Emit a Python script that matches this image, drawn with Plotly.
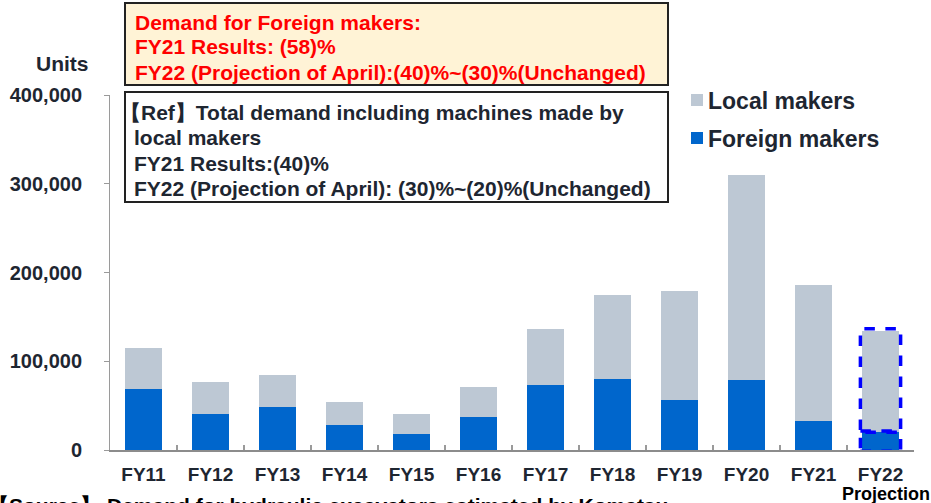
import plotly.graph_objects as go

categories = ["FY11", "FY12", "FY13", "FY14", "FY15", "FY16", "FY17", "FY18", "FY19", "FY20", "FY21", "FY22"]
foreign_makers = [68700, 40600, 48500, 28000, 18400, 37600, 72900, 80000, 56300, 78900, 32700, 20000]
total_demand = [114600, 77000, 84500, 54000, 40200, 71000, 136000, 174600, 179500, 309900, 185900, 134000]
local_makers = [t - f for t, f in zip(total_demand, foreign_makers)]
y_ticks = [0, 100000, 200000, 300000, 400000]

box1_lines = ["Demand for Foreign makers:",
              "FY21 Results: (58)%",
              "FY22 (Projection of April):(40)%~(30)%(Unchanged)"]
box2_lines = ["【Ref】Total demand including machines made by",
              "local makers",
              "FY21 Results:(40)%",
              "FY22 (Projection of April): (30)%~(20)%(Unchanged)"]

W, H = 931, 503
L, T, R, B = 110, 95, 931 - 914, 503 - 450
PW, PH = W - L - R, H - T - B
FONT = "Liberation Sans, Arial, sans-serif"
DARK = "#1E2631"
FOREIGN_C = "#0066CC"
LOCAL_C = "#BDC8D4"


def px(x):
    """window pixel x -> paper coordinate"""
    return (x - L) / PW


def py(y):
    """window pixel y -> paper coordinate"""
    return (H - B - y) / PH


fig = go.Figure()
fig.add_trace(go.Bar(x=categories, y=foreign_makers, name="Foreign makers",
                     marker=dict(color=FOREIGN_C, line=dict(width=0))))
fig.add_trace(go.Bar(x=categories, y=local_makers, name="Local makers",
                     marker=dict(color=LOCAL_C, line=dict(width=0))))

shapes = []
annotations = []

# dashed highlight boxes around FY22 projection
i22 = len(categories) - 1
hw = 0.3
shapes.append(dict(type="rect", xref="x", yref="y", x0=i22 - hw, x1=i22 + hw,
                   y0=foreign_makers[i22] + 1500, y1=total_demand[i22] + 2500,
                   line=dict(color="#0000FF", width=3.5, dash="dash")))
shapes.append(dict(type="rect", xref="x", yref="y", x0=i22 - hw, x1=i22 + hw,
                   y0=-1500, y1=foreign_makers[i22],
                   line=dict(color="#0000FF", width=3.5, dash="dash")))

# text boxes
shapes.append(dict(type="rect", xref="paper", yref="paper", x0=px(125), x1=px(668),
                   y0=py(85), y1=py(3), fillcolor="#FFF3D6",
                   line=dict(color="#222222", width=2), layer="above"))
shapes.append(dict(type="rect", xref="paper", yref="paper", x0=px(125), x1=px(668),
                   y0=py(202), y1=py(92), fillcolor="white",
                   line=dict(color="#222222", width=2), layer="above"))

for line, yc in zip(box1_lines, [21, 46, 71]):
    annotations.append(dict(xref="paper", yref="paper", x=px(133), y=py(yc + 1),
                            xanchor="left", yanchor="middle", showarrow=False,
                            text="<b>%s</b>" % line,
                            font=dict(family=FONT, size=21, color="#FF0000")))
for line, yc in zip(box2_lines, [111, 136, 162, 187]):
    x0 = 118 if line.startswith("【") else 132
    annotations.append(dict(xref="paper", yref="paper", x=px(x0), y=py(yc + 1),
                            xanchor="left", yanchor="middle", showarrow=False,
                            text="<b>%s</b>" % line,
                            font=dict(family=FONT, size=21, color=DARK)))

# legend
for name, color, yc in [("Local makers", LOCAL_C, 100), ("Foreign makers", FOREIGN_C, 138)]:
    shapes.append(dict(type="rect", xref="paper", yref="paper", x0=px(691), x1=px(703),
                       y0=py(yc + 6), y1=py(yc - 6), fillcolor=color, line=dict(width=0)))
    annotations.append(dict(xref="paper", yref="paper", x=px(706), y=py(yc + 1),
                            xanchor="left", yanchor="middle", showarrow=False,
                            text="<b>%s</b>" % name,
                            font=dict(family=FONT, size=23, color=DARK)))

# axis title "Units"
annotations.append(dict(xref="paper", yref="paper", x=px(91), y=py(64),
                        xanchor="right", yanchor="middle", showarrow=False,
                        text="<b>Units</b>", font=dict(family=FONT, size=21, color=DARK)))
# Projection label
annotations.append(dict(xref="paper", yref="paper", x=px(886), y=py(494),
                        xanchor="center", yanchor="middle", showarrow=False,
                        text="<b>Projection</b>", font=dict(family=FONT, size=18, color="#000000")))
# source (cut off at bottom)
annotations.append(dict(xref="paper", yref="paper", x=px(-14), y=py(492),
                        xanchor="left", yanchor="top", showarrow=False,
                        text="<b>【Source】 Demand for hydraulic excavators estimated by Komatsu</b>",
                        font=dict(family=FONT, size=21, color="#000000")))

fig.update_layout(
    width=W, height=H, autosize=False,
    margin=dict(l=L, r=R, t=T, b=B, pad=0),
    barmode="stack", bargap=0.443,
    showlegend=False,
    plot_bgcolor="white", paper_bgcolor="white",
    shapes=shapes, annotations=annotations,
    font=dict(family=FONT, color=DARK),
)
fig.update_xaxes(type="category", showline=True, linecolor="#8C8C8C", linewidth=1.5,
                 ticks="inside", tickson="boundaries", ticklen=5, tickcolor="#9A9A9A",
                 tickwidth=1.5, showgrid=False, zeroline=False, automargin=False,
                 tickfont=dict(family=FONT, size=19, color=DARK, weight="bold"),
                 ticklabelstandoff=6)
fig.update_yaxes(range=[0, 400000], tickvals=y_ticks, tickformat=",d",
                 showline=True, linecolor="#9A9A9A", linewidth=1, ticks="outside",
                 ticklen=5, tickcolor="#9A9A9A", showgrid=False, zeroline=False,
                 automargin=False,
                 tickfont=dict(family=FONT, size=20, color=DARK, weight="bold"),
                 ticklabelstandoff=18)

fig.write_html("out.html", config={"displayModeBar": False},
               post_script="document.body.style.margin='0px';document.body.style.overflow='hidden';")
